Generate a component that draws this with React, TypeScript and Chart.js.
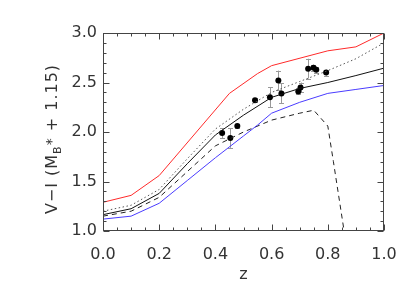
import React, { useEffect, useRef } from "react";
import { Chart, registerables } from "chart.js";
Chart.register(...registerables);

// model curves
const redZ = [0, 0.1, 0.2, 0.45, 0.55, 0.6, 0.8, 0.9, 1.0];
const redV = [1.29, 1.36, 1.56, 2.39, 2.59, 2.67, 2.82, 2.86, 3.0];
const solidZ = [0, 0.1, 0.2, 0.3, 0.4, 0.5, 0.6, 0.7, 0.8, 0.9, 1.0];
const solidV = [1.165, 1.225, 1.38, 1.68, 1.97, 2.17, 2.35, 2.44, 2.5, 2.57, 2.645];
const dottedZ = [0, 0.1, 0.2, 0.3, 0.4, 0.5, 0.6, 0.7, 0.8, 0.9, 1.0];
const dottedV = [1.2, 1.26, 1.42, 1.73, 2.03, 2.23, 2.4, 2.51, 2.62, 2.74, 2.9];
const blueZ = [0, 0.1, 0.2, 0.3, 0.4, 0.5, 0.55, 0.6, 0.7, 0.8, 0.9, 1.0];
const blueV = [1.12, 1.15, 1.28, 1.51, 1.74, 1.96, 2.07, 2.19, 2.3, 2.39, 2.43, 2.47];
const dashedZ = [0, 0.1, 0.2, 0.3, 0.4, 0.5, 0.6, 0.7, 0.75, 0.8, 0.82, 0.858];
const dashedV = [1.15, 1.2, 1.34, 1.6, 1.86, 2.0, 2.12, 2.19, 2.22, 2.06, 1.7, 1.0];

// observed points
const obsZ = [0.424, 0.453, 0.478, 0.541, 0.594, 0.624, 0.635, 0.695, 0.703, 0.73, 0.749, 0.759, 0.794];
const obsV = [1.99, 1.94, 2.06, 2.32, 2.35, 2.52, 2.39, 2.41, 2.45, 2.64, 2.65, 2.63, 2.6];
const obsErr = [0.05, 0.1, 0.02, 0.02, 0.1, 0.1, 0.1, 0.03, 0.05, 0.1, 0.03, 0.03, 0.03];

const xTicks = [0, 0.2, 0.4, 0.6, 0.8, 1.0];
const yTicks = [1.0, 1.5, 2.0, 2.5, 3.0];

const pts = (xs: number[], ys: number[]) => xs.map((x, i) => ({ x, y: ys[i] }));

const FONT = "DejaVu Sans";

const framePlugin = {
  id: "frame",
  beforeDatasetsDraw(chart: any) {
    const { ctx } = chart;
    const xs = chart.scales.x;
    const ys = chart.scales.y;
    ctx.save();
    ctx.strokeStyle = "#999999";
    ctx.lineWidth = 1;
    obsZ.forEach((z, i) => {
      const px = Math.round(xs.getPixelForValue(z)) + 0.5;
      const y1 = ys.getPixelForValue(obsV[i] - obsErr[i]);
      const y2 = ys.getPixelForValue(obsV[i] + obsErr[i]);
      ctx.beginPath();
      ctx.moveTo(px, y1);
      ctx.lineTo(px, y2);
      ctx.moveTo(px - 2.5, Math.round(y1) + 0.5);
      ctx.lineTo(px + 2.5, Math.round(y1) + 0.5);
      ctx.moveTo(px - 2.5, Math.round(y2) + 0.5);
      ctx.lineTo(px + 2.5, Math.round(y2) + 0.5);
      ctx.stroke();
    });
    ctx.restore();
  },
  afterDraw(chart: any) {
    const { ctx, chartArea: a } = chart;
    const xs = chart.scales.x;
    const ys = chart.scales.y;
    ctx.save();
    ctx.strokeStyle = "#444444";
    ctx.lineWidth = 1;
    const L = Math.round(a.left) + 0.5, R = Math.round(a.right) - 0.5;
    const T = Math.round(a.top) + 0.5, B = Math.round(a.bottom) - 0.5;
    ctx.strokeRect(L, T, R - L, B - T);
    ctx.beginPath();
    for (let k = 0; k <= 20; k++) {
      const v = k * 0.05;
      const len = k % 4 === 0 ? 6 : 3;
      const px = Math.round(xs.getPixelForValue(v)) + 0.5;
      ctx.moveTo(px, B); ctx.lineTo(px, B - len);
      ctx.moveTo(px, T); ctx.lineTo(px, T + len);
    }
    for (let k = 0; k <= 20; k++) {
      const v = 1 + k * 0.1;
      const len = k % 5 === 0 ? 6 : 3;
      const py = Math.round(ys.getPixelForValue(v)) + 0.5;
      ctx.moveTo(L, py); ctx.lineTo(L + len, py);
      ctx.moveTo(R, py); ctx.lineTo(R - len, py);
    }
    ctx.stroke();

    // titles
    ctx.fillStyle = "#333333";
    ctx.textBaseline = "alphabetic";
    ctx.textAlign = "center";
    ctx.font = `16px "${FONT}"`;
    ctx.fillText("z", (a.left + a.right) / 2, 279);

    const segs = [
      { t: "V\u2212I (M", size: 16, dy: 0 },
      { t: "B", size: 11, dy: 4 },
      { t: "*", size: 14, dy: -1 },
      { t: " + 1.15)", size: 16, dy: 0 },
    ];
    const spacing = 1.0;
    ctx.textAlign = "left";
    let total = 0;
    segs.forEach((s) => {
      ctx.font = `${s.size}px "${FONT}"`;
      for (const ch of s.t) total += ctx.measureText(ch).width + spacing;
    });
    ctx.translate(57, 139);
    ctx.rotate(-Math.PI / 2);
    let x = -total / 2;
    segs.forEach((s) => {
      ctx.font = `${s.size}px "${FONT}"`;
      for (const ch of s.t) {
        ctx.fillText(ch, x, s.dy);
        x += ctx.measureText(ch).width + spacing;
      }
    });
    ctx.restore();
  },
};

export default function App() {
  const ref = useRef<HTMLCanvasElement>(null);
  useEffect(() => {
    if (!ref.current) return;
    const lineDs = (data: any[], color: string, dash: number[] = [], width = 1) => ({
      type: "line" as const,
      data,
      borderColor: color,
      borderWidth: width,
      borderDash: dash,
      pointRadius: 0,
      fill: false,
      tension: 0,
    });
    const chart = new Chart(ref.current, {
      type: "line",
      data: {
        datasets: [
          lineDs(pts(redZ, redV), "#ff2a2a"),
          lineDs(pts(dottedZ, dottedV), "#555555", [1.5, 2.5]),
          lineDs(pts(solidZ, solidV), "#111111"),
          lineDs(pts(blueZ, blueV), "#4a3cff"),
          lineDs(pts(dashedZ, dashedV), "#222222", [5, 4]),
          {
            type: "scatter" as const,
            data: pts(obsZ, obsV),
            pointStyle: "circle",
            pointRadius: 3,
            backgroundColor: "#000000",
            borderColor: "#000000",
            borderWidth: 0,
            showLine: false,
          } as any,
        ],
      },
      options: {
        animation: false,
        responsive: false,
        events: [],
        layout: { padding: { top: 33, right: 31, left: 0, bottom: 0 } },
        plugins: { legend: { display: false }, tooltip: { enabled: false } },
        scales: {
          x: {
            type: "linear",
            min: 0,
            max: 1,
            afterFit: (s: any) => { s.height = 66; },
            afterBuildTicks: (s: any) => { s.ticks = xTicks.map((v) => ({ value: v })); },
            grid: { display: false, drawTicks: false },
            border: { display: false },
            ticks: {
              padding: 14,
              color: "#333333",
              font: { family: FONT, size: 16 },
              callback: (v: any) => Number(v).toFixed(1),
            },
          },
          y: {
            type: "linear",
            min: 1,
            max: 3,
            afterFit: (s: any) => { s.width = 103; },
            afterBuildTicks: (s: any) => { s.ticks = yTicks.map((v) => ({ value: v })); },
            grid: { display: false, drawTicks: false },
            border: { display: false },
            ticks: {
              padding: 6,
              color: "#333333",
              font: { family: FONT, size: 16 },
              callback: (v: any) => Number(v).toFixed(1),
            },
          },
        },
      } as any,
      plugins: [framePlugin],
    });
    return () => chart.destroy();
  }, []);
  return (
    <div style={{ position: "absolute", left: 0, top: 0, width: 415, height: 297, background: "#fff" }}>
      <canvas ref={ref} width={415} height={297} style={{ width: 415, height: 297 }} />
    </div>
  );
}
